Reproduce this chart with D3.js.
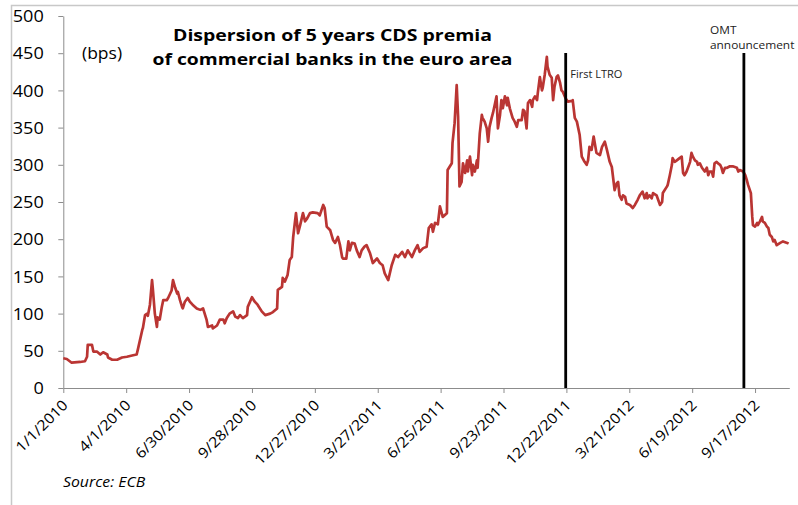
<!DOCTYPE html>
<html><head><meta charset="utf-8">
<script src="https://cdn.jsdelivr.net/npm/d3@7"></script>
<style>
body{margin:0;background:#fff;}
svg text{font-family:"Open Sans",sans-serif;fill:#000;}
</style>
</head><body>
<svg id="chart" width="798" height="505"></svg>
<script>
// ---------------- data ----------------
const startDate = "2010-01-01";
const endDate = "2012-11-05";
// days elapsed since startDate
const dayOffsets = [
  0,5,12,24,31,34,35,41,43,48,
  53,57,63,64,70,77,84,91,100,105,
  107,113,114,117,120,121,124,127,128,131,
  134,135,138,141,143,148,150,153,155,157,
  160,163,164,167,170,171,174,178,181,185,
  191,196,200,205,207,213,214,220,224,229,
  231,234,238,243,246,250,253,257,263,264,
  270,274,278,284,289,296,300,306,307,313,
  314,317,321,324,327,329,333,336,339,343,
  346,349,353,357,364,367,372,374,377,382,
  386,389,393,396,399,400,405,408,410,413,
  417,420,424,427,431,434,439,443,449,453,
  457,460,465,470,475,479,485,489,493,499,
  503,507,510,515,520,523,527,529,532,536,
  539,543,549,550,556,557,560,563,565,567,
  570,572,575,578,579,582,585,586,589,592,
  593,596,599,600,603,606,608,610,613,615,
  618,620,622,625,627,629,632,635,636,639,
  643,646,649,651,656,658,660,663,665,668,
  671,672,675,678,679,682,685,686,689,692,
  693,696,699,701,703,706,708,711,713,715,
  719,722,728,729,732,735,739,742,746,749,
  751,753,756,759,763,768,771,775,778,782,
  785,789,792,794,796,799,801,804,806,811,
  815,818,822,825,829,832,835,836,839,842,
  844,849,854,857,858,864,865,868,871,872,
  875,878,882,885,887,889,892,894,897,899,
  901,904,907,908,911,914,918,921,923,925,
  928,930,932,935,937,940,942,944,947,950,
  954,958,964,966,968,973,976,978,980,984,
  986,987,990,993,994,997,1000,1001,1004,1007,
  1009,1011,1014,1016,1018,1021,1026,1030,1036,1038
];
// CDS premia dispersion (bps)
const premia = [
  40,39,34,35,36,42,58,58,49,49,
  45,48,45,41,38,38,41,42,44,45,
  53,78,81,98,100,97,112,145,135,100,
  82,95,92,109,118,118,121,127,131,145,
  135,127,129,118,109,107,116,121,116,112,
  107,105,107,92,82,84,80,84,92,92,
  87,94,100,103,96,94,98,94,98,109,
  122,116,112,103,98,100,102,107,132,136,
  148,143,152,172,176,203,235,208,219,235,
  224,228,235,236,235,232,246,242,217,212,
  199,195,203,192,176,174,174,197,185,195,
  194,185,176,185,190,192,181,168,174,168,
  165,154,145,165,179,176,183,176,185,176,
  185,192,183,188,190,215,220,210,222,220,
  244,230,235,293,302,329,356,407,365,271,
  277,302,289,306,291,311,286,300,291,306,
  296,342,367,363,358,349,331,351,363,370,
  383,392,349,367,387,376,392,380,390,376,
  363,358,351,360,360,374,372,349,383,387,
  378,387,392,387,396,418,400,403,421,445,
  432,421,417,387,405,418,420,410,400,398,
  389,385,386,387,363,358,340,311,304,300,
  306,324,320,338,316,313,324,331,320,304,
  297,266,275,277,259,253,259,257,248,246,
  242,246,253,259,264,255,262,255,259,255,
  262,259,246,250,262,271,273,286,300,309,
  304,306,309,311,289,286,291,296,304,316,
  311,306,304,300,302,296,291,296,286,291,
  291,284,302,304,302,300,296,289,296,296,
  298,298,296,291,293,291,286,280,273,262,
  230,219,217,222,219,224,230,224,222,217,
  215,206,203,197,199,192,195,197,195,194
];
const xTickLabels = ["1/1/2010","4/1/2010","6/30/2010","9/28/2010","12/27/2010","3/27/2011",
  "6/25/2011","9/23/2011","12/22/2011","3/21/2012","6/19/2012","9/17/2012"];
const yTickValues = [0,50,100,150,200,250,300,350,400,450,500];
const eventDates = ["2011-12-21","2012-09-01"];
const eventLabels = [["First LTRO"],["OMT","announcement"]];
const titleLines = ["Dispersion of 5 years CDS premia","of commercial banks in the euro area"];
const unitLabel = "(bps)";
const sourceLabel = "Source: ECB";

// ---------------- chart ----------------
const svg = d3.select("#chart");
const parseISO = d3.utcParse("%Y-%m-%d");
const parseTick = d3.utcParse("%m/%d/%Y");
const t0 = parseISO(startDate);
const SX = 1.13; // horizontal stretch of the reference's typeface

const x = d3.scaleUtc().domain([t0, parseISO(endDate)]).range([63.3, 789.3]);
const y = d3.scaleLinear().domain([0, 500]).range([388, 16]);

const series = d3.zip(dayOffsets, premia).map(([d, v]) => ({date: d3.utcDay.offset(t0, d), value: v}));

function stretchedText(parent, tx, ty, str, size, opts = {}) {
  const t = parent.append("text")
    .attr("transform", `translate(${tx},${ty}) scale(${opts.sx || SX},1)`)
    .attr("font-size", size)
    .attr("text-anchor", opts.anchor || "start")
    .text(str);
  if (opts.weight) t.attr("font-weight", opts.weight);
  if (opts.style) t.attr("font-style", opts.style);
  if (opts.fill) t.style("fill", opts.fill);
  return t;
}

// outer frame
svg.append("rect").attr("x", 11.5).attr("y", 5.5).attr("width", 900).attr("height", 600)
  .attr("fill", "none").attr("stroke", "#c8c8c8").attr("stroke-width", 1.5);

// y axis
const yAxis = svg.append("g").attr("transform", "translate(63.3,0)")
  .call(d3.axisLeft(y).tickValues(yTickValues).tickSize(5).tickSizeOuter(0));
yAxis.select(".domain").attr("stroke", "#8c8c8c");
yAxis.selectAll(".tick line").attr("stroke", "#8c8c8c");
yAxis.selectAll(".tick text")
  .attr("font-size", 16).attr("font-family", "Open Sans").attr("fill", "#000")
  .attr("x", 0).attr("dy", "0.36em")
  .attr("transform", `translate(-19.5,0) scale(${SX},1)`);

// x axis
const tickDates = xTickLabels.map(parseTick);
const xAxis = svg.append("g").attr("transform", "translate(0,388)")
  .call(d3.axisBottom(x).tickValues(tickDates).tickSize(5).tickSizeOuter(0)
    .tickFormat((d, i) => xTickLabels[i]));
xAxis.select(".domain").attr("stroke", "#8c8c8c");
xAxis.selectAll(".tick line").attr("stroke", "#8c8c8c");
xAxis.selectAll(".tick text")
  .attr("font-size", 14.5).attr("font-family", "Open Sans").attr("fill", "#000")
  .attr("text-anchor", "end").attr("dy", null).attr("y", null)
  .attr("transform", `translate(5,18) rotate(-45) scale(1.1,1)`);

// series line
svg.append("path").datum(series)
  .attr("fill", "none").attr("stroke", "#BA3533").attr("stroke-width", 2.7)
  .attr("stroke-linejoin", "round")
  .attr("d", d3.line().x(d => x(d.date)).y(d => y(d.value)));

// event lines
eventDates.forEach((ds) => {
  const ex = x(parseISO(ds));
  svg.append("line").attr("x1", ex).attr("x2", ex).attr("y1", y(0)).attr("y2", 53)
    .attr("stroke", "#000").attr("stroke-width", 2.8);
});
stretchedText(svg, x(parseISO(eventDates[0])) + 4.5, 78, eventLabels[0][0], 11, {fill: "#222", sx: 1.0});
eventLabels[1].forEach((t, j) => {
  stretchedText(svg, 710, 34 + j * 15, t, 11, {fill: "#222", sx: 1.08});
});

// title
titleLines.forEach((t, i) => {
  svg.append("text").attr("x", 332.5).attr("y", 41 + i * 24)
    .attr("text-anchor", "middle").attr("font-weight", "bold").attr("font-size", 16.5)
    .attr("textLength", i === 0 ? 319 : 360).attr("lengthAdjust", "spacingAndGlyphs")
    .text(t);
});
stretchedText(svg, 82, 59, unitLabel, 15.5, {});
stretchedText(svg, 63, 487, sourceLabel, 14, {style: "italic"});
</script>
</body></html>
